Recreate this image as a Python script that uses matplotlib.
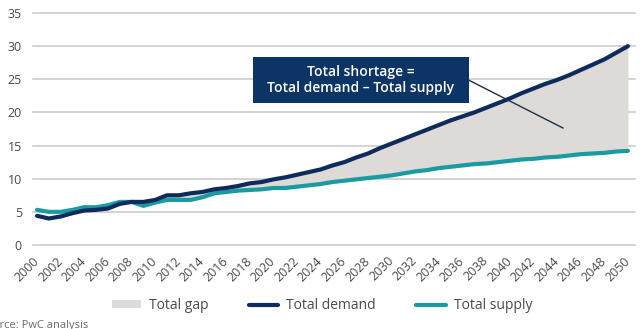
import matplotlib
matplotlib.use("Agg")
import matplotlib.pyplot as plt
import numpy as np
from matplotlib.patches import Rectangle, Patch
from matplotlib.lines import Line2D

years = list(range(2000, 2051))
demand = [4.4, 4.0, 4.3, 4.8, 5.2, 5.3, 5.5, 6.2, 6.5, 6.5,
          6.8, 7.5, 7.5, 7.8, 8.0, 8.4, 8.6, 8.9, 9.3, 9.5,
          9.9, 10.2, 10.6, 11.0, 11.4, 12.0, 12.5, 13.2, 13.8, 14.6,
          15.3, 16.0, 16.7, 17.4, 18.1, 18.8, 19.4, 20.0, 20.7, 21.4,
          22.1, 22.9, 23.6, 24.3, 24.9, 25.6, 26.4, 27.2, 28.0, 29.0,
          30.0]
supply = [5.3, 5.0, 5.0, 5.3, 5.7, 5.7, 6.0, 6.5, 6.5, 5.9,
          6.4, 6.8, 6.8, 6.8, 7.2, 7.8, 8.0, 8.2, 8.3, 8.4,
          8.6, 8.6, 8.8, 9.0, 9.2, 9.5, 9.7, 9.9, 10.1, 10.3,
          10.5, 10.8, 11.1, 11.3, 11.6, 11.8, 12.0, 12.2, 12.3, 12.5,
          12.7, 12.9, 13.0, 13.2, 13.3, 13.5, 13.7, 13.8, 13.9, 14.1,
          14.2]
xtick_years = list(range(2000, 2051, 2))
yticks = [0, 5, 10, 15, 20, 25, 30, 35]
legend_labels = ["Total gap", "Total demand", "Total supply"]
box_text = "Total shortage =\nTotal demand \u2013 Total supply"
source_text = "Source: PwC analysis"

NAVY = "#0d2b5c"
TEAL = "#1a9ba2"
GAP = "#dedad7"
GRID = "#c8c8c8"
TXT = "#4a4a4a"

plt.rcParams['font.family'] = ['Open Sans', 'DejaVu Sans']

fig = plt.figure(figsize=(6.4, 3.29), dpi=100)
ax = fig.add_axes([33/640, (329-245)/329, 602/640, 232/329])

x = np.array(years)
d = np.array(demand)
s = np.array(supply)
ax.fill_between(x, s, d, where=d >= s, interpolate=True, color=GAP, lw=0, zorder=1)
ax.plot(x, s, color=TEAL, lw=3.0, solid_capstyle='round', zorder=3)
ax.plot(x, d, color=NAVY, lw=3.0, solid_capstyle='round', zorder=4)

ax.set_xlim(1999.66, 2050.6)
ax.set_ylim(0, 35)
ax.set_yticks(yticks)
ax.set_xticks(xtick_years)
ax.set_xticklabels([str(y) for y in xtick_years], rotation=45, ha='right',
                   va='center', rotation_mode='anchor')
for yv in yticks:
    ax.axhline(yv, color=GRID, lw=1.1, zorder=0, clip_on=False)
for sp in ax.spines.values():
    sp.set_visible(False)
ax.tick_params(axis='both', length=0, labelsize=9, colors=TXT)
ax.tick_params(axis='y', pad=8)
ax.tick_params(axis='x', pad=10)

# annotation box
ax.add_patch(Rectangle((2018.27, 21.4), 18.28, 6.96, facecolor="#0c3566",
                       edgecolor='none', zorder=5))
ax.text(2018.27 + 18.28/2, 21.4 + 6.96/2, box_text, color='white', ha='center',
        va='center', fontsize=10, fontweight='semibold', linespacing=1.15, zorder=6)
ax.plot([2036.5, 2044.5], [24.9, 17.65], color="#1b2f4a", lw=1.0, zorder=5)

handles = [Patch(facecolor=GAP, edgecolor='none'),
           Line2D([0], [0], color=NAVY, lw=3.0, solid_capstyle='round'),
           Line2D([0], [0], color=TEAL, lw=3.0, solid_capstyle='round')]
fig.legend(handles, legend_labels, loc='center', bbox_to_anchor=(322/640, 1-305.5/329),
           ncol=3, frameon=False, fontsize=10, handlelength=2.1, handleheight=0.45,
           handletextpad=0.6, columnspacing=2.9, labelcolor=TXT)

fig.text(-20/640, 1-320/329, source_text, fontsize=8, color="#6a6a6a", ha='left', va='top')

fig.savefig("out.png", dpi=100)
